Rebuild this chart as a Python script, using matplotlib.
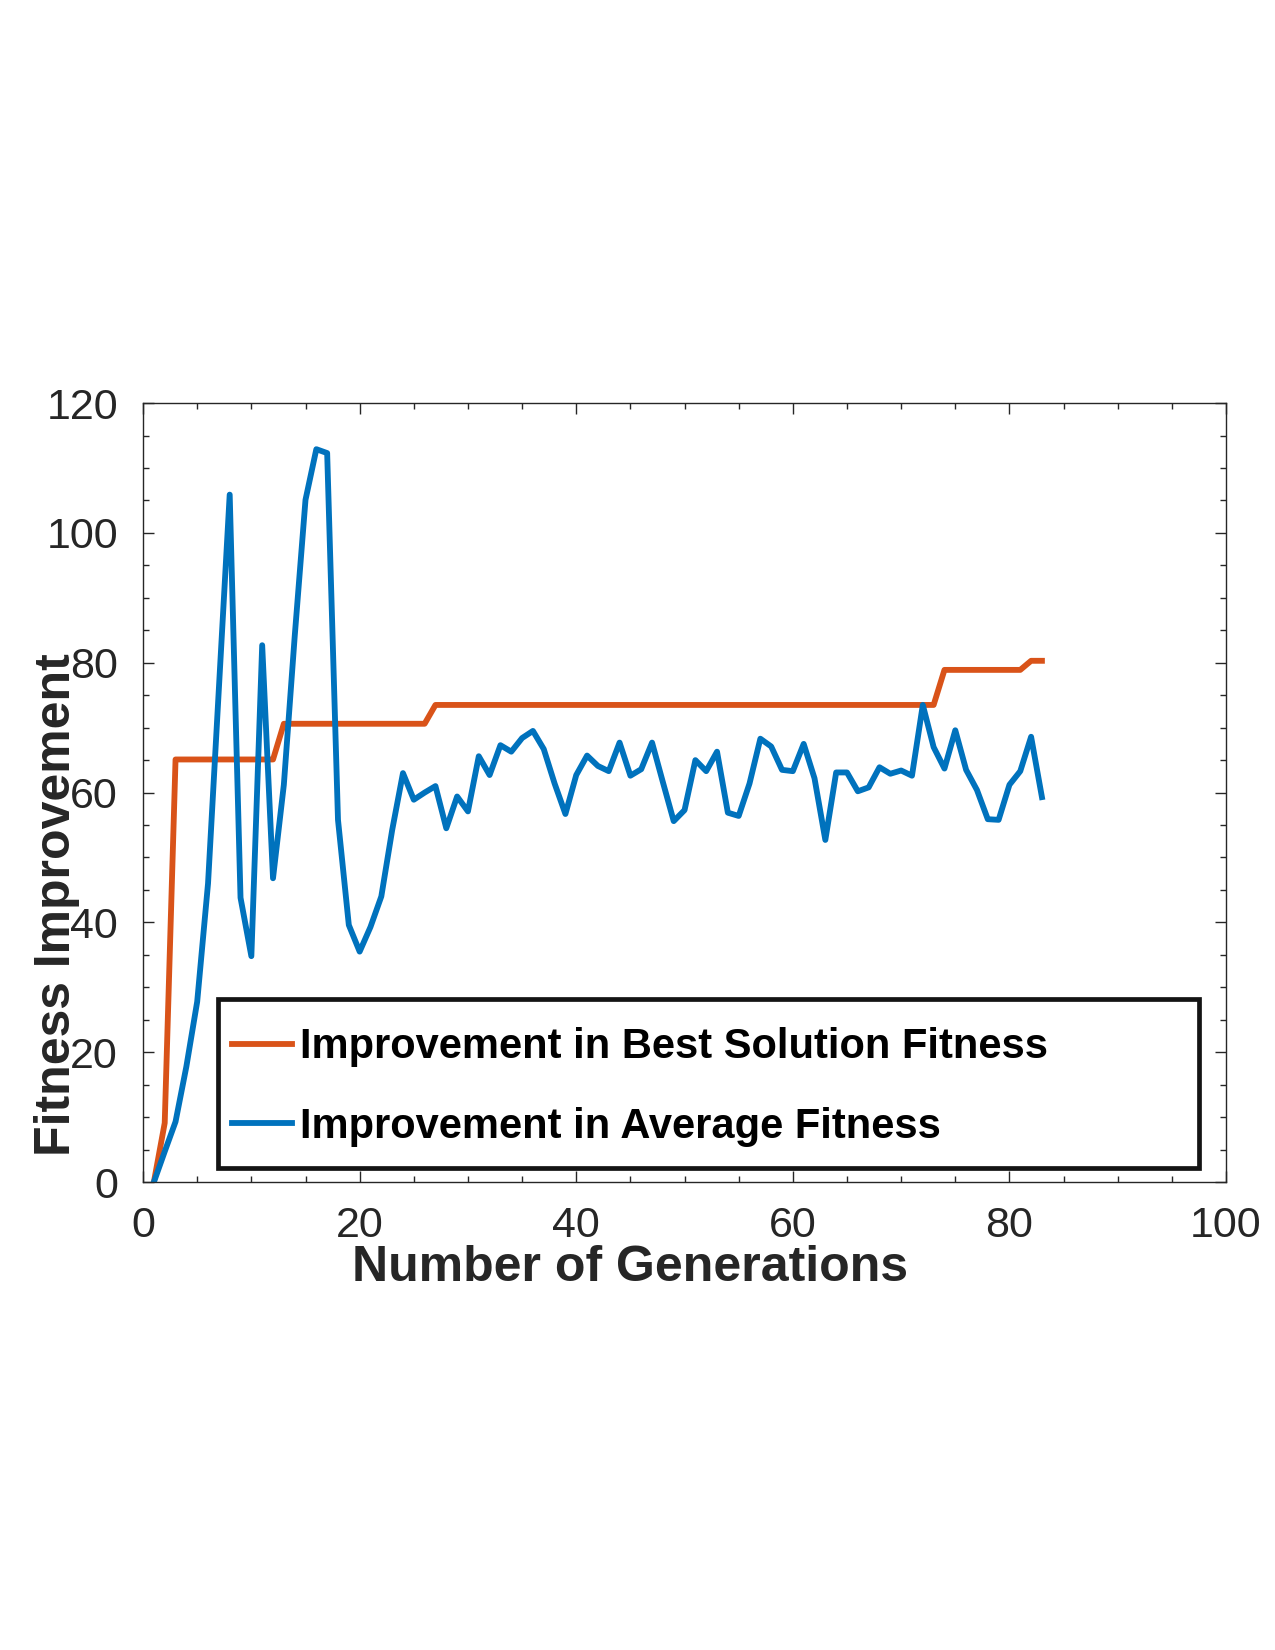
import numpy as np
import matplotlib
matplotlib.use('Agg')
import matplotlib.pyplot as plt
from matplotlib.patches import Rectangle
from matplotlib.ticker import MultipleLocator

# Datos (generación 1..83)
generaciones = list(range(1, 84))

mejor = [0, 9.1,
         65.1, 65.1, 65.1, 65.1, 65.1, 65.1, 65.1, 65.1, 65.1, 65.1,
         70.6, 70.6, 70.6, 70.6, 70.6, 70.6, 70.6, 70.6, 70.6, 70.6, 70.6, 70.6, 70.6, 70.6,
         73.5, 73.5, 73.5, 73.5, 73.5, 73.5, 73.5, 73.5, 73.5, 73.5, 73.5, 73.5, 73.5, 73.5,
         73.5, 73.5, 73.5, 73.5, 73.5, 73.5, 73.5, 73.5, 73.5, 73.5, 73.5, 73.5, 73.5, 73.5,
         73.5, 73.5, 73.5, 73.5, 73.5, 73.5, 73.5, 73.5, 73.5, 73.5, 73.5, 73.5, 73.5, 73.5,
         73.5, 73.5, 73.5, 73.5, 73.5,
         78.9, 78.9, 78.9, 78.9, 78.9, 78.9, 78.9, 78.9,
         80.3, 80.3]

promedio = [0, 4.7, 9.3, 17.8, 27.8, 46, 76, 105.9, 43.8, 34.8,
            82.7, 46.8, 61.2, 84, 105.1, 112.9, 112.3, 55.8, 39.6, 35.5,
            39.3, 44, 54.2, 63, 58.9, 60, 61, 54.5, 59.4, 57.1,
            65.6, 62.7, 67.3, 66.3, 68.4, 69.5, 66.7, 61.4, 56.7, 62.7,
            65.7, 64.1, 63.3, 67.7, 62.6, 63.6, 67.7, 61.6, 55.6, 57.3,
            65, 63.3, 66.3, 56.9, 56.4, 61.4, 68.3, 67.1, 63.5, 63.3,
            67.5, 62.2, 52.7, 63.1, 63.1, 60.2, 60.8, 63.9, 62.9, 63.4,
            62.6, 73.5, 67, 63.7, 69.6, 63.5, 60.4, 55.9, 55.8, 61.2,
            63.3, 68.6, 59.3]

etiquetas = ['Improvement in Best Solution Fitness', 'Improvement in Average Fitness']

gris = '#262626'
plt.rcParams['font.family'] = ['Liberation Sans', 'DejaVu Sans']

fig = plt.figure(figsize=(12.75, 16.5), dpi=100)
ax = fig.add_axes([0.1122, 0.2836, 0.8494, 0.4721])

ax.plot(generaciones, mejor, color='#D95319', lw=4.2, label=etiquetas[0])
ax.plot(generaciones, promedio, color='#0072BD', lw=4.2, label=etiquetas[1])

ax.set_xlim(0, 100)
ax.set_ylim(0, 120)
ax.xaxis.set_major_locator(MultipleLocator(20))
ax.xaxis.set_minor_locator(MultipleLocator(5))
ax.yaxis.set_major_locator(MultipleLocator(20))
ax.yaxis.set_minor_locator(MultipleLocator(5))

ax.tick_params(which='both', direction='in', top=True, right=True, colors=gris, width=1.0)
ax.tick_params(which='major', length=8, labelsize=31)
ax.tick_params(which='minor', length=4.3)
ax.tick_params(axis='x', pad=17)
ax.tick_params(axis='y', pad=18)
for s in ax.spines.values():
    s.set_color(gris)
    s.set_linewidth(1.0)

# la etiqueta Y queda montada sobre los números, igual que en el original
ax.set_xlabel('Number of Generations', fontsize=36, fontweight='bold', color=gris)
ax.set_ylabel('Fitness Improvement', fontsize=36, fontweight='bold', color=gris)
ax.xaxis.set_label_coords(0.45, -0.081)
ax.yaxis.set_label_coords(-0.058, 0.356)

# marco de la leyenda aparte, para controlar el relleno
ax.add_patch(Rectangle((0.069, 0.018), 0.906, 0.217, transform=ax.transAxes,
                       facecolor='white', edgecolor='#141414', lw=3.4, zorder=4))
leg = ax.legend(loc='center left', bbox_to_anchor=(0.0817, 0.122),
                prop={'size': 30, 'weight': 'bold'}, frameon=False,
                handlelength=1.46, handletextpad=0.18,
                labelspacing=0.94, borderpad=0, borderaxespad=0)
leg.set_zorder(5)
for t in leg.get_texts():
    t.set_color('black')

plt.savefig('out.png', dpi=100)
